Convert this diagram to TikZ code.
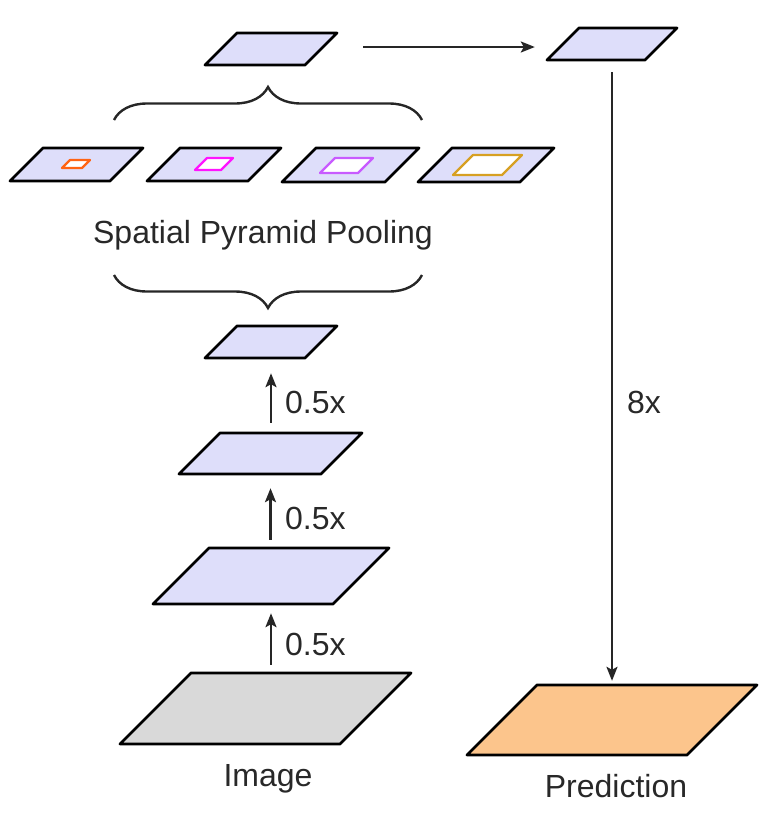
\documentclass[tikz,border=0pt]{standalone}
\usepackage{fontspec}
\setmainfont{Liberation Sans}
\usetikzlibrary{arrows.meta,decorations.pathreplacing}
\definecolor{lav}{RGB}{222,222,250}
\definecolor{imggray}{RGB}{217,217,217}
\definecolor{predor}{RGB}{252,197,140}
\definecolor{cOr}{RGB}{255,100,20}
\definecolor{cMag}{RGB}{255,20,255}
\definecolor{cVio}{RGB}{200,90,255}
\definecolor{cGold}{RGB}{215,160,35}
\definecolor{txt}{RGB}{40,40,40}
\newcommand\layerbox[6]{%
  \draw[#6] (#2,#3) -- ++(#4,0) -- ++(#5,-#5) -- ++(-#4,0) -- cycle;
  \node[inner sep=0pt, minimum width=#4+#5, minimum height=#5] (#1) at (#2+#4/2+#5/2, #3-#5/2) {};
}
\tikzset{
  plate/.style={draw=black, line width=2.8pt, line join=round, fill=lav},
  imgplate/.style={plate, fill=imggray},
  predplate/.style={plate, fill=predor},
  inner/.style={line width=2.2pt, fill=white, line join=round},
  arr/.style={draw=black!85, line width=2.2pt, -{Stealth[length=14pt,width=11pt,inset=3pt]}},
  brc/.style={draw=black!85, line width=2.4pt, decorate, decoration={brace, amplitude=33pt}},
  lbl/.style={inner sep=0pt, text=txt, font=\fontsize{32}{38}\selectfont},
}
\begin{document}
\begin{tikzpicture}[x=1pt, y=-1pt]
\useasboundingbox (0,0) rectangle (776,820);
% main column
\layerbox{img}{120}{744}{220}{71}{imgplate}
\layerbox{L1}{153}{604}{180}{56}{plate}
\layerbox{L2}{179}{474}{142}{41}{plate}
\layerbox{L3}{205}{358}{100}{32}{plate}
% SPP row
\layerbox{P1}{10}{181}{100}{33}{plate}
\layerbox{P2}{147}{181}{101}{33}{plate}
\layerbox{P3}{282}{182}{103}{34}{plate}
\layerbox{P4}{418}{182}{102}{34}{plate}
\layerbox{I1}{62}{168}{20}{8}{inner, draw=cOr}
\layerbox{I2}{195}{170}{26}{12}{inner, draw=cMag}
\layerbox{I3}{320}{173}{38}{15}{inner, draw=cVio}
\layerbox{I4}{453}{175}{49}{20}{inner, draw=cGold}
% top
\layerbox{top}{205}{65}{100}{32}{plate}
\layerbox{outR}{547}{60}{98}{32}{plate}
\layerbox{pred}{467}{755}{220}{70}{predplate}
% braces
\coordinate (bTl) at (114,120);
\coordinate (bTr) at (422,120);
\coordinate (bBl) at (114,275);
\coordinate (bBr) at (422,275);
\draw[brc] (bTl) -- (bTr);
\draw[brc] (bBr) -- (bBl);
% arrows
\draw[arr, shorten <=8pt, shorten >=9pt] (L1.south |- img.north) -- (L1.south);
\draw[arr, shorten <=8pt, shorten >=14pt] (L2.south |- L1.north) -- (L2.south);
\draw[arr, shorten <=10pt, shorten >=15pt] (L3.south |- L2.north) -- (L3.south);
\draw[arr, shorten <=26pt, shorten >=12pt] ([yshift=2pt]top.east) -- ([yshift=2pt]top.east -| outR.west);
\draw[arr, shorten <=12pt, shorten >=4pt] (outR.south) -- (pred.north);
% labels
\node[lbl, anchor=base west] (r1) at (285,655) {0.5x};
\node[lbl, anchor=base west] (r2) at (285,529) {0.5x};
\node[lbl, anchor=base west] (r3) at (285,413) {0.5x};
\node[lbl, anchor=base west] (r8) at (627,413) {8x};
\node[lbl, anchor=base] (tspp) at (263,243) {Spatial Pyramid Pooling};
\node[lbl, anchor=base] (timg) at (268,786) {Image};
\node[lbl, anchor=base] (tpred) at (616,797) {Prediction};
\end{tikzpicture}
\end{document}
